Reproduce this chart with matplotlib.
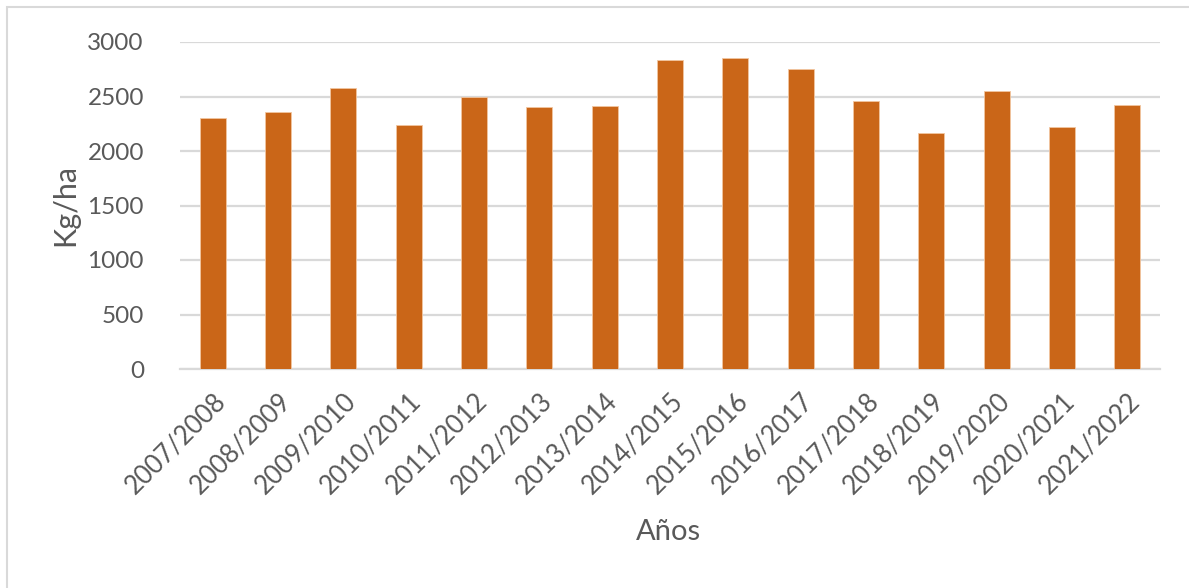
import matplotlib.pyplot as plt
from matplotlib.patches import Rectangle

# --- Data ---
seasons = ['2007/2008', '2008/2009', '2009/2010', '2010/2011', '2011/2012',
           '2012/2013', '2013/2014', '2014/2015', '2015/2016', '2016/2017',
           '2017/2018', '2018/2019', '2019/2020', '2020/2021', '2021/2022']
yield_kg_ha = [2300, 2355, 2580, 2240, 2495, 2403, 2415, 2835, 2855, 2750,
               2462, 2168, 2552, 2220, 2425]
y_ticks = [0, 500, 1000, 1500, 2000, 2500, 3000]

bar_color = '#CA6618'
text_color = '#595959'
grid_color = '#D9D9D9'

plt.rcParams['font.family'] = ['Lato', 'DejaVu Sans']

fig = plt.figure(figsize=(11.89, 5.88), dpi=100)
ax = fig.add_axes([180 / 1189, 1 - 369 / 588, 980 / 1189, 327 / 588])

x = range(len(seasons))
ax.bar(x, yield_kg_ha, width=0.4, color=bar_color, edgecolor='#F2C6A0',
       linewidth=0.6, zorder=3)

ax.set_xlim(-0.5, len(seasons) - 0.5)
ax.set_ylim(0, 3000)
ax.set_yticks(y_ticks)
ax.set_yticklabels([str(v) for v in y_ticks])
ax.yaxis.grid(True, color=grid_color, linewidth=1.6, zorder=0)
ax.set_axisbelow(True)

ax.set_xticks(list(x))
ax.set_xticklabels(seasons, rotation=45, ha='right', rotation_mode='anchor')
ax.tick_params(axis='both', length=0, colors=text_color)
ax.tick_params(axis='y', labelsize=17.5, pad=26)
ax.tick_params(axis='x', labelsize=18.5, pad=14)

for side in ['top', 'right', 'left']:
    ax.spines[side].set_visible(False)
ax.spines['bottom'].set_color(grid_color)
ax.spines['bottom'].set_linewidth(1.6)

ax.set_ylabel('Kg/ha', fontsize=22, color=text_color)
ax.set_xlabel('Años', fontsize=21, color=text_color)
ax.xaxis.set_label_coords((668 - 180) / 980, -(519 - 369) / 327)
ax.yaxis.set_label_coords(-(180 - 79) / 980, (369 - 205) / 327)

# outer chart frame
fig.patches.append(Rectangle((7 / 1189, -0.05), 1.2, 1 - 7 / 588 + 0.05,
                             transform=fig.transFigure, fill=False,
                             edgecolor=grid_color, linewidth=1.5))

fig.savefig('out.png', dpi=100)
